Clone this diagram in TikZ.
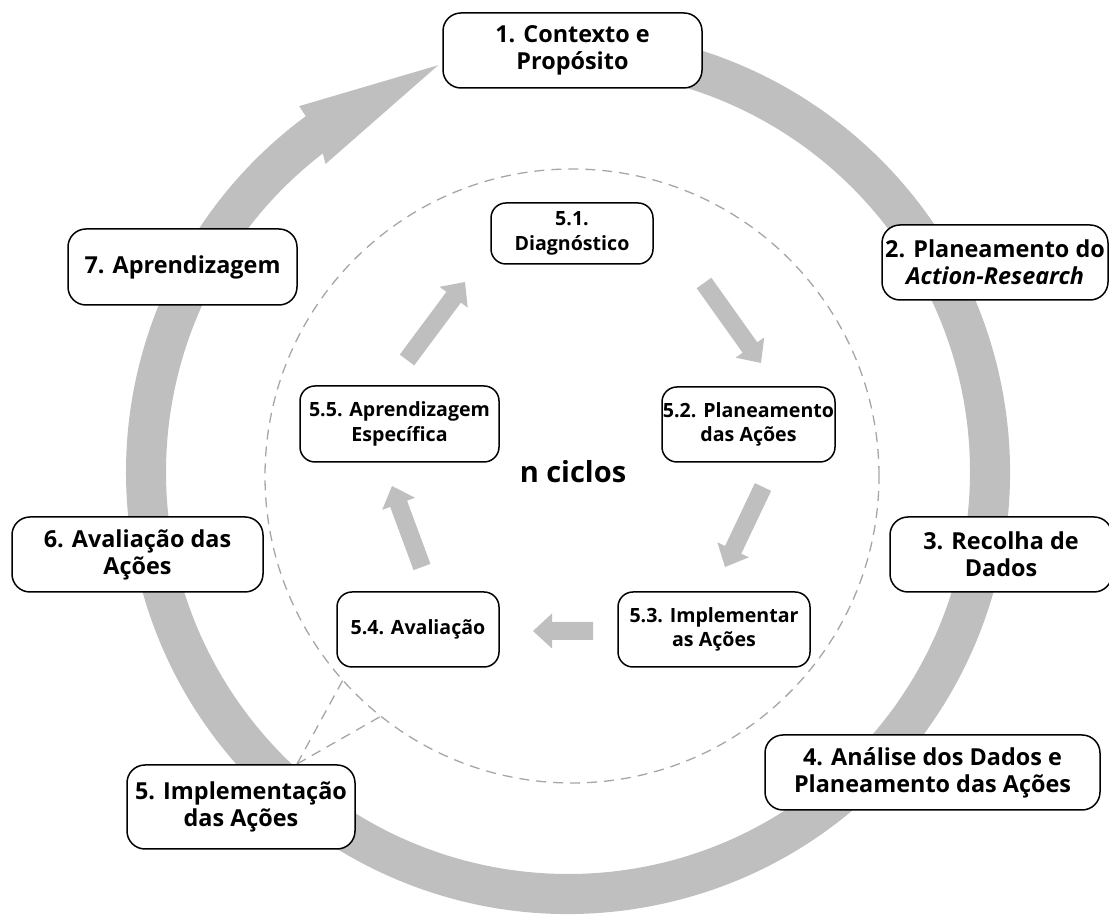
\documentclass[tikz,border=0pt]{standalone}
\usepackage{fontspec}
\setmainfont{Open Sans}
\usetikzlibrary{calc}

\definecolor{flowgrey}{HTML}{BFBFBF}
\definecolor{dashgrey}{HTML}{A6A6A6}

\tikzset{
  stage/.style={draw=black, line width=1.5pt, fill=white, rounded corners=18pt,
    align=center, inner sep=0pt, font=\fontsize{23.4}{27}\selectfont\bfseries},
  substage/.style={stage, rounded corners=15pt,
    font=\fontsize{19.6}{24.5}\selectfont\bfseries},
  flow/.style={fill=flowgrey},
  callout/.style={draw=dashgrey, line width=1.3pt, dash pattern=on 10pt off 7pt},
}

% straight block arrow from #1 to #2 (shaft 18, head 35 wide, 19 long)
\newcommand\blockarrow[2]{%
  \fill[flow] let \p1=($(#2)-(#1)$), \n1={atan2(\y1,\x1)}, \n2={veclen(\x1,\y1)} in
    [shift={(#1)}, rotate=\n1]
    (0,-9) -- (\n2-19,-9) -- (\n2-19,-17.5) -- (\n2,0) -- (\n2-19,17.5)
    -- (\n2-19,9) -- (0,9) -- cycle;}

\begin{document}
\begin{tikzpicture}[x=1pt,y=1pt]
\useasboundingbox (0,0) rectangle (1109,917);

% outer cycle: circular arrow ending at stage 1
\coordinate (C) at (568,445);
\fill[flow] ([shift={(C)}]100:442) arc[start angle=100, end angle=-233.6, radius=442]
  -- ([shift={(C)}]126.3:454) -- ([shift={(C)}]107.7:427)
  -- ([shift={(C)}]128.2:392) -- ([shift={(C)}]127.6:402)
  arc[start angle=-232.4, end angle=100, radius=402] -- cycle;

% inner cycle boundary and its link to stage 5
\coordinate (DC) at (572,441);
\draw[callout] (DC) circle[radius=307];
\coordinate (cA) at ([shift={(DC)}]221.7:307);
\coordinate (cB) at ([shift={(DC)}]231.5:307);
\coordinate (c5) at (297,153);
\draw[callout] (c5) -- (cA);
\draw[callout] (c5) -- (cB);

% outer stages
\node[stage, minimum width=259pt, minimum height=75pt] (s1) at (572.5,866.5) {1. Contexto e\\Propósito};
\node[stage, minimum width=226pt, minimum height=75pt] (s2) at (995,654.5) {2. Planeamento do\\\textit{Action-Research}};
\node[stage, minimum width=222pt, minimum height=75pt] (s3) at (1001,362.5) {3. Recolha de\\Dados};
\node[stage, minimum width=335pt, minimum height=75pt] (s4) at (932.5,144.5) {4. Análise dos Dados e\\Planeamento das Ações};
\node[stage, minimum width=228pt, minimum height=84pt] (s5) at (241,110) {5. Implementação\\das Ações};
\node[stage, minimum width=251pt, minimum height=75pt] (s6) at (137.5,362.5) {6. Avaliação das\\Ações};
\node[stage, minimum width=229pt, minimum height=76pt] (s7) at (182.5,650) {7. Aprendizagem};

% inner stages
\node[substage, minimum width=162pt, minimum height=61pt] (i1) at (572,683.5) {5.1.\\Diagnóstico};
\node[substage, minimum width=173pt, minimum height=75pt] (i2) at (748.5,492.5) {5.2. Planeamento\\das Ações};
\node[substage, minimum width=192pt, minimum height=75pt] (i3) at (714,287.5) {5.3. Implementar\\as Ações};
\node[substage, minimum width=162pt, minimum height=75pt] (i4) at (418,287.5) {5.4. Avaliação};
\node[substage, minimum width=199pt, minimum height=76pt] (i5) at (399.5,493) {5.5. Aprendizagem\\Específica};
\node[font=\fontsize{29}{33}\selectfont\bfseries] (n) at (573,445) {n ciclos};

% inner cycle arrows
\coordinate (a1s) at (407,557); \coordinate (a1e) at (465,635);
\coordinate (a2s) at (704,634); \coordinate (a2e) at (761,554);
\coordinate (a3s) at (763,430); \coordinate (a3e) at (725,350);
\coordinate (a4s) at (593,286); \coordinate (a4e) at (533,286);
\coordinate (a5s) at (422,350); \coordinate (a5e) at (392,431);
\blockarrow{a1s}{a1e}
\blockarrow{a2s}{a2e}
\blockarrow{a3s}{a3e}
\blockarrow{a4s}{a4e}
\blockarrow{a5s}{a5e}
\end{tikzpicture}
\end{document}
